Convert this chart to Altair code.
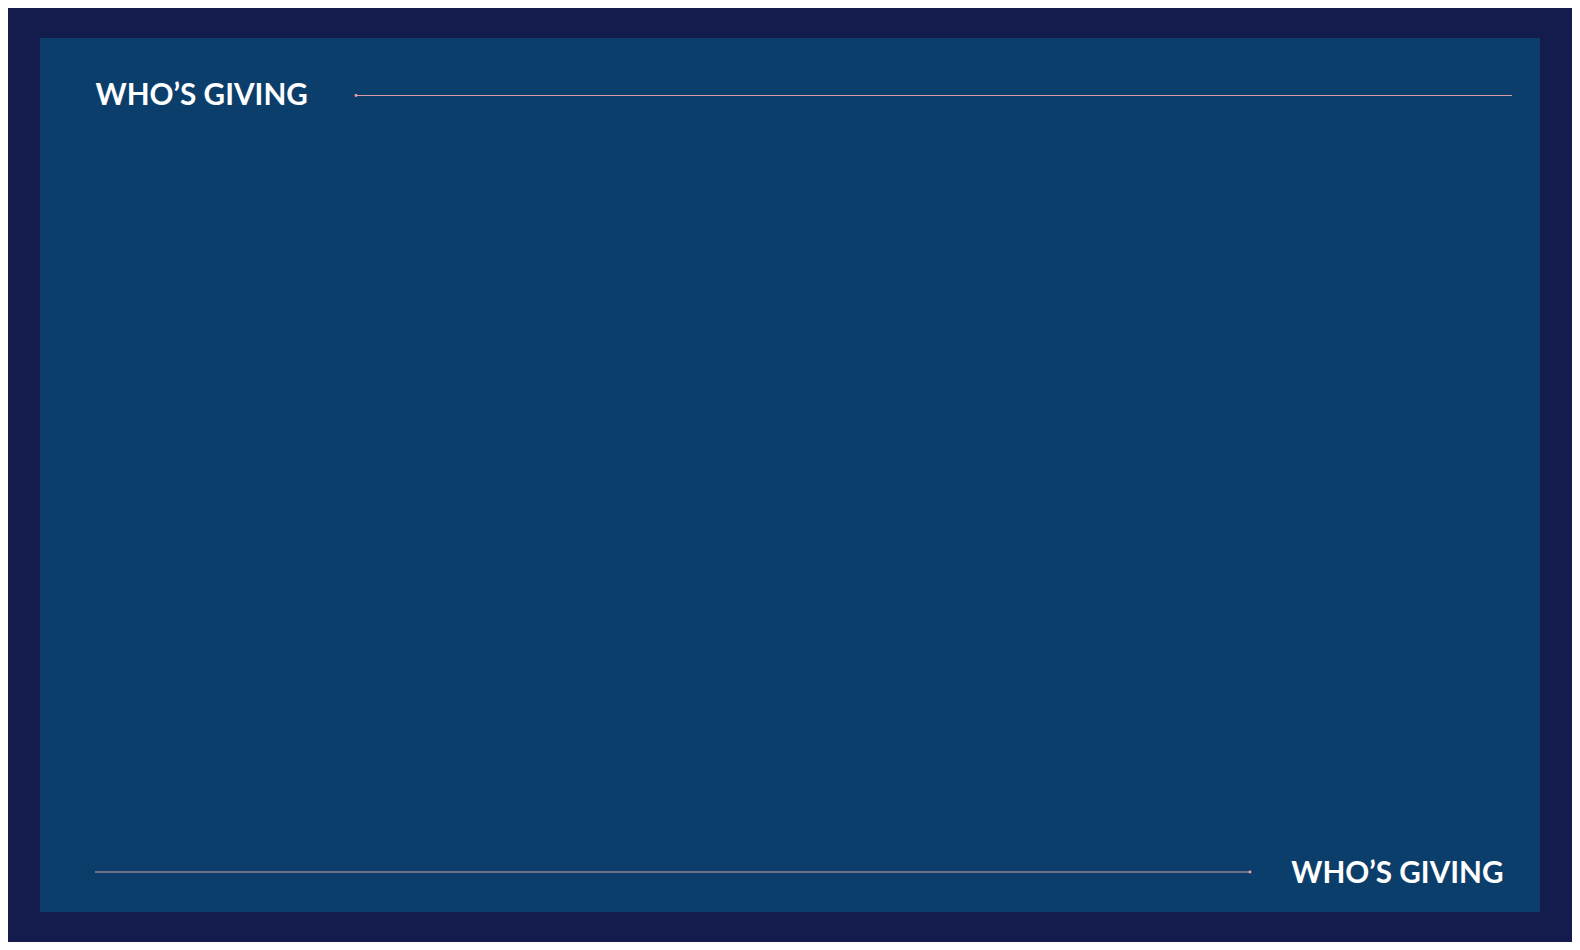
import altair as alt
import pandas as pd

# Canvas (page is 1580x950 with an 8px body margin)
W, H = 1564, 934
X_DOMAIN = [8, 1572]
Y_DOMAIN = [8, 942]

OUTER_BG = "#141c4e"
PANEL_BG = "#0c3e6c"
LINE_COLOR = "#f0a4a8"
TEXT_COLOR = "#ffffff"

# Decorative elements (page-pixel frame)
panel_x = [40]
panel_x2 = [1540]
panel_y = [38]
panel_y2 = [912]

rule_x = [356, 95]
rule_x2 = [1512, 1250]
rule_y = [95.5, 872]

dot_x = [356, 1250]
dot_y = [95.5, 872]

title_text = ["WHO’S GIVING"]
top_title_x = [95.5]
top_title_y = [105]
bottom_title_x = [1503.5]
bottom_title_y = [883.3]

xs = alt.Scale(domain=X_DOMAIN, range=[0, W])
ys = alt.Scale(domain=Y_DOMAIN, range=[0, H])

panel_df = pd.DataFrame({"x": panel_x, "x2": panel_x2, "y": panel_y, "y2": panel_y2})
rule_df = pd.DataFrame({"x": rule_x, "x2": rule_x2, "y": rule_y})
dot_df = pd.DataFrame({"x": dot_x, "y": dot_y})
top_df = pd.DataFrame({"x": top_title_x, "y": top_title_y, "t": title_text})
bot_df = pd.DataFrame({"x": bottom_title_x, "y": bottom_title_y, "t": title_text})

panel = alt.Chart(panel_df).mark_rect(color=PANEL_BG).encode(
    x=alt.X("x:Q", scale=xs, axis=None),
    x2="x2:Q",
    y=alt.Y("y:Q", scale=ys, axis=None),
    y2="y2:Q",
)

rules = alt.Chart(rule_df).mark_rule(color=LINE_COLOR, strokeWidth=1.1, opacity=0.9).encode(
    x=alt.X("x:Q", scale=xs, axis=None),
    x2="x2:Q",
    y=alt.Y("y:Q", scale=ys, axis=None),
)

dots = alt.Chart(dot_df).mark_circle(color=LINE_COLOR, size=8, opacity=1).encode(
    x=alt.X("x:Q", scale=xs, axis=None),
    y=alt.Y("y:Q", scale=ys, axis=None),
)

text_style = dict(
    color=TEXT_COLOR,
    font="Lato",
    fontWeight="bold",
    fontSize=29.7,
    baseline="alphabetic",
)

top_text = alt.Chart(top_df).mark_text(align="left", **text_style).encode(
    x=alt.X("x:Q", scale=xs, axis=None),
    y=alt.Y("y:Q", scale=ys, axis=None),
    text="t:N",
)

bot_text = alt.Chart(bot_df).mark_text(align="right", **text_style).encode(
    x=alt.X("x:Q", scale=xs, axis=None),
    y=alt.Y("y:Q", scale=ys, axis=None),
    text="t:N",
)

chart = (
    alt.layer(panel, rules, dots, top_text, bot_text)
    .properties(
        width=W,
        height=H,
        background=OUTER_BG,
        padding=0,
        autosize=alt.AutoSizeParams(type="none"),
    )
    .configure_view(stroke=None)
)

chart.save("out.html", embed_options={"renderer": "svg", "actions": False})
